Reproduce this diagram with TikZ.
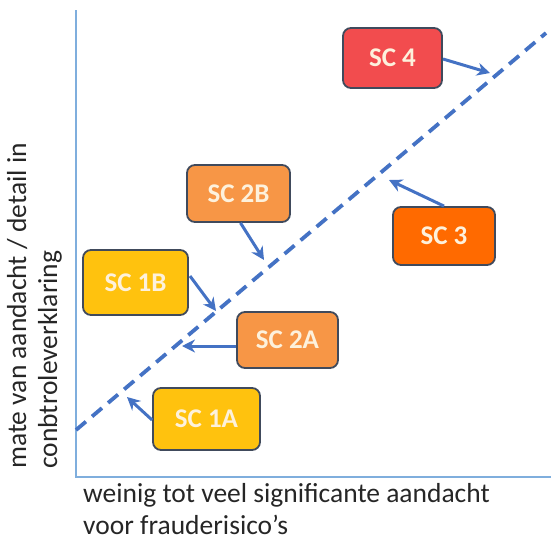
\documentclass[tikz,border=0pt]{standalone}
\usepackage{fontspec}
\setmainfont{Carlito}
\usetikzlibrary{arrows.meta}
\definecolor{axisblue}{HTML}{7FAEDD}
\definecolor{lineblue}{HTML}{4472C4}
\definecolor{boxborder}{HTML}{404A5C}
\definecolor{cred}{HTML}{F24C4E}
\definecolor{corange}{HTML}{F79646}
\definecolor{cdark}{HTML}{FF6A00}
\definecolor{cgold}{HTML}{FFC20E}
\definecolor{boxtext}{HTML}{FDF1DC}
\tikzset{
  scbox/.style={draw=boxborder, line width=1.8pt, rounded corners=8pt, inner sep=0pt,
    minimum width=#1, text=boxtext, font=\fontsize{27}{30}\selectfont\bfseries},
  scbox/.default=100pt,
  ptr/.style={draw=lineblue, line width=3pt, -{Stealth[length=13pt,width=13pt]}},
  axisline/.style={draw=axisblue, line width=1.3pt},
  lbl/.style={font=\fontsize{27.5}{32}\selectfont, text=black!85, inner sep=0pt}
}
\begin{document}
\begin{tikzpicture}[x=1pt,y=-1pt]
\useasboundingbox (0,0) rectangle (551,541);
% axes
\coordinate (otop) at (76,10);
\coordinate (origin) at (76,477);
\coordinate (xend) at (551,477);
\draw[axisline] (otop) -- (origin) -- (xend);
% dashed diagonal
\coordinate (d0) at (76,430);
\coordinate (d1) at (546,33);
\draw[lineblue, line width=3.8pt, dash pattern=on 13pt off 8pt] (d0) -- (d1);
% boxes
\node[scbox=99pt, fill=cred, minimum height=60pt] (sc4) at (392.5,58) {SC 4};
\node[scbox=103pt, fill=corange, minimum height=57pt] (sc2b) at (238.5,193.5) {SC 2B};
\node[scbox=102pt, fill=cdark, minimum height=58pt] (sc3) at (444,236) {SC 3};
\node[scbox=105pt, fill=cgold, minimum height=65pt] (sc1b) at (135.5,282.5) {SC 1B};
\node[scbox=101pt, fill=corange, minimum height=56pt] (sc2a) at (287.5,340) {SC 2A};
\node[scbox=107pt, fill=cgold, minimum height=62pt] (sc1a) at (206.5,419) {SC 1A};
% arrow tips
\coordinate (t4) at (490,73);
\coordinate (t2b) at (264,260);
\coordinate (t3) at (389,180);
\coordinate (t1b) at (216,311);
\coordinate (t2a) at (182,346);
\coordinate (t1a) at (127,397);
\draw[ptr] (443,59) -- (t4);
\draw[ptr] (sc2b.south) ++(2,0) coordinate (s2b) (s2b) -- (t2b);
\draw[ptr] (sc3.north) coordinate (s3) (s3) -- (t3);
\draw[ptr] (190,276) coordinate (s1b) (s1b) -- (t1b);
\draw[ptr] (sc2a.west |- t2a) coordinate (s2a) (s2a) -- (t2a);
\draw[ptr] (sc1a.west) ++(0,1) coordinate (s1a) (s1a) -- (t1a);
% labels
\node[lbl, anchor=base west] (xl1) at (83,502) {weinig tot veel significante aandacht};
\node[lbl, anchor=base west] (xl2) at (83,534) {voor frauderisico's};
\node[lbl, anchor=base west, rotate=90] (yl1) at (26,469) {mate van aandacht / detail in};
\node[lbl, anchor=base west, rotate=90] (yl2) at (57,469) {conbtroleverklaring};
\end{tikzpicture}
\end{document}
